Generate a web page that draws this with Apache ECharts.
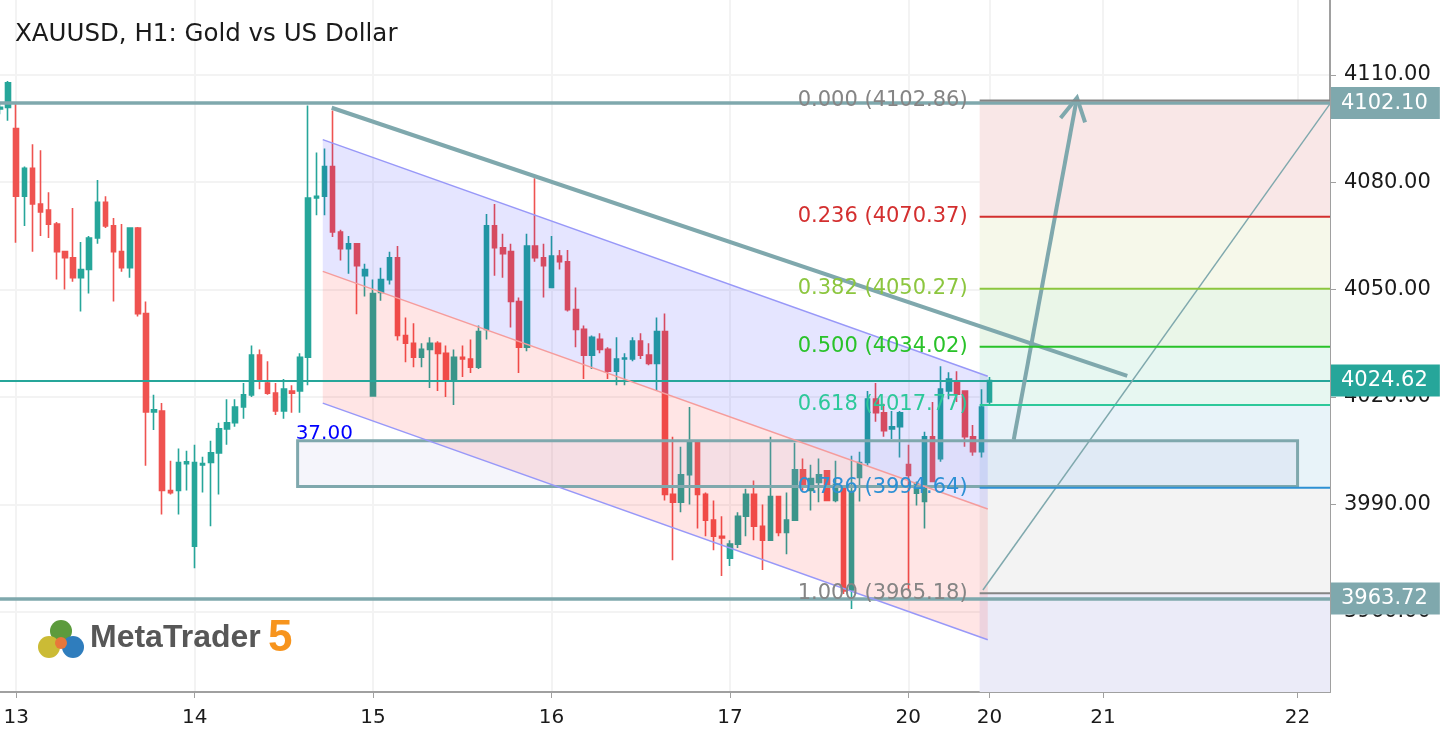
<!DOCTYPE html>
<html>
<head>
<meta charset="utf-8">
<title>XAUUSD, H1: Gold vs US Dollar</title>
<script src="https://cdn.jsdelivr.net/npm/echarts@6/dist/echarts.min.js"></script>
<style>
  html, body { margin: 0; padding: 0; background: #fff; }
  #chart { width: 1442px; height: 740px; }
</style>
</head>
<body>
<div id="chart"></div>
<script>
// day separators: bar index and label
const dayTicks = [2, 24, 46, 68, 90, 112, 122, 136, 160];
const dayNames = ['13', '14', '15', '16', '17', '20', '20', '21', '22'];
const priceTicks = [3960, 3990, 4020, 4050, 4080, 4110];

// H1 bars, one row per hour: [open, close, low, high]
const ohlc = [
  [4100.5, 4100.9, 4099.0, 4102.0], [4100.9, 4107.8, 4097.2, 4108.3],
  // 13
  [4095.0, 4076.1, 4063.1, 4101.9], [4076.1, 4083.9, 4067.8, 4084.4], [4083.9, 4073.9, 4060.6, 4090.6],
  [4073.9, 4071.7, 4065.0, 4088.9], [4072.2, 4068.3, 4064.4, 4077.2], [4068.3, 4060.6, 4052.8, 4068.9],
  [4060.6, 4058.9, 4050.0, 4060.6], [4058.9, 4053.3, 4052.2, 4072.8], [4053.3, 4055.6, 4043.9, 4063.3],
  [4055.6, 4064.4, 4048.9, 4065.0], [4064.4, 4074.4, 4062.8, 4080.6], [4074.4, 4067.8, 4067.2, 4076.1],
  [4067.8, 4060.6, 4046.7, 4070.0], [4060.6, 4056.1, 4055.0, 4068.3], [4056.1, 4067.2, 4053.3, 4067.2],
  [4067.2, 4043.3, 4042.5, 4067.5], [4043.3, 4015.8, 4000.8, 4046.7], [4015.8, 4016.4, 4010.8, 4020.6],
  [4016.1, 3993.9, 3987.2, 4018.3], [3993.9, 3993.3, 3992.8, 4002.2], [3993.9, 4001.7, 3987.2, 4005.6],
  [4001.4, 4001.9, 3993.9, 4005.0],
  // 14
  [3978.3, 4001.7, 3972.2, 4006.7], [4001.0, 4001.4, 3993.3, 4003.3], [4001.7, 4004.4, 3983.9, 4007.8],
  [4004.4, 4011.1, 3992.8, 4012.8], [4011.1, 4012.8, 4006.7, 4019.4], [4012.8, 4017.2, 4011.7, 4019.4],
  [4017.2, 4020.6, 4013.9, 4023.9], [4020.6, 4031.7, 4020.0, 4034.4], [4031.7, 4025.0, 4022.2, 4033.3],
  [4023.9, 4021.1, 4020.6, 4030.0], [4021.1, 4016.1, 4015.0, 4023.9], [4016.1, 4022.2, 4013.9, 4025.0],
  [4021.7, 4021.1, 4015.6, 4023.3], [4021.7, 4031.1, 4015.6, 4032.2], [4031.1, 4075.6, 4023.3, 4101.4],
  [4075.6, 4076.1, 4070.8, 4088.3], [4076.1, 4084.4, 4070.8, 4089.4], [4084.4, 4066.1, 4064.7, 4100.0],
  [4066.1, 4061.4, 4058.1, 4066.7], [4061.4, 4062.8, 4054.4, 4065.0], [4062.8, 4056.7, 4043.1, 4062.8],
  [4053.9, 4055.6, 4048.1, 4057.2],
  // 15
  [4020.3, 4048.9, 4020.3, 4052.8], [4049.2, 4052.8, 4046.9, 4056.1], [4052.8, 4058.9, 4051.4, 4060.6],
  [4058.9, 4037.2, 4035.8, 4062.2], [4037.2, 4035.0, 4029.7, 4042.2], [4035.0, 4031.1, 4028.3, 4040.6],
  [4031.1, 4033.3, 4028.3, 4035.0], [4033.3, 4035.0, 4022.5, 4036.7], [4035.0, 4032.2, 4021.7, 4035.6],
  [4032.2, 4025.0, 4020.0, 4034.4], [4025.0, 4031.1, 4017.8, 4033.3], [4031.1, 4030.6, 4025.6, 4034.4],
  [4030.6, 4028.3, 4026.7, 4036.1], [4028.3, 4038.3, 4027.8, 4040.0], [4038.9, 4067.8, 4036.1, 4071.1],
  [4067.8, 4061.7, 4053.9, 4073.9], [4061.7, 4060.0, 4053.3, 4065.6], [4060.6, 4046.7, 4039.4, 4062.8],
  [4046.7, 4033.9, 4026.7, 4047.8], [4033.9, 4062.2, 4032.8, 4065.6], [4062.2, 4058.9, 4057.8, 4081.1],
  [4058.9, 4056.7, 4047.8, 4062.8],
  // 16
  [4050.6, 4059.4, 4050.6, 4065.0], [4059.4, 4057.8, 4055.6, 4061.1], [4057.8, 4044.4, 4043.9, 4061.1],
  [4044.4, 4038.9, 4033.9, 4050.6], [4038.9, 4031.7, 4025.0, 4040.0], [4031.7, 4036.7, 4027.8, 4037.2],
  [4036.1, 4033.3, 4032.2, 4037.8], [4033.3, 4027.2, 4025.0, 4033.9], [4027.2, 4030.6, 4023.3, 4036.7],
  [4030.6, 4030.9, 4023.3, 4032.2], [4030.6, 4035.6, 4030.0, 4036.7], [4035.6, 4031.7, 4030.6, 4037.8],
  [4031.7, 4029.4, 4028.9, 4035.0], [4029.4, 4038.3, 4021.7, 4042.2], [4038.3, 3992.8, 3991.1, 4043.3],
  [3992.8, 3990.6, 3974.4, 4008.9], [3990.6, 3998.3, 3987.8, 4006.1], [3998.3, 4007.2, 3990.0, 4017.2],
  [4007.2, 3992.8, 3983.3, 4007.2], [3992.8, 3985.6, 3981.1, 3993.3], [3985.6, 3981.1, 3977.2, 3991.1],
  [3981.1, 3980.6, 3970.0, 3986.7],
  // 17
  [3975.0, 3978.9, 3972.8, 3980.0], [3978.9, 3986.7, 3977.8, 3987.8], [3986.7, 3992.8, 3981.1, 3994.4],
  [3992.8, 3983.9, 3980.0, 3996.7], [3983.9, 3980.0, 3971.7, 3990.0], [3980.0, 3992.2, 3980.0, 4008.9],
  [3992.2, 3982.2, 3981.1, 3992.2], [3982.2, 3985.6, 3976.1, 3993.3], [3985.6, 3999.7, 3985.6, 4007.2],
  [3999.7, 3995.6, 3993.9, 4002.8], [3993.9, 3997.2, 3988.3, 4001.1], [3996.1, 3998.3, 3990.6, 4002.8],
  [3999.4, 3991.1, 3991.1, 3999.4], [3991.1, 3995.6, 3990.6, 4002.2], [3994.4, 3965.8, 3965.0, 3994.4],
  [3966.1, 3993.6, 3960.8, 4003.6], [3997.5, 4001.7, 3990.8, 4004.7], [4001.7, 4019.4, 4000.8, 4021.7],
  [4019.4, 4015.6, 4013.1, 4023.9], [4015.6, 4010.6, 4008.9, 4018.1], [4011.1, 4011.7, 4008.3, 4016.1],
  [4011.7, 4015.6, 4003.1, 4016.1],
  // 20
  [4001.1, 3998.1, 3965.8, 4006.7], [3993.1, 3995.8, 3989.7, 3996.4], [3990.8, 4008.9, 3983.3, 4010.3],
  [4008.9, 3996.4, 3996.4, 4018.6], [4002.8, 4022.2, 4001.9, 4028.6], [4021.7, 4025.0, 4019.4, 4026.9],
  [4024.4, 4020.8, 4018.6, 4027.2], [4021.7, 4008.9, 4006.1, 4021.7], [4008.9, 4004.7, 4003.6, 4012.2],
  [4004.7, 4017.2, 4003.1, 4022.2], [4018.6, 4024.62, 4017.5, 4025.6]
];

const lastPrice = 4024.62;
const levelPrices = [4102.10, 3963.72];

// Fibonacci retracement
const fibRatios = [0, 0.236, 0.382, 0.5, 0.618, 0.786, 1];
const fibPrices = [4102.86, 4070.37, 4050.27, 4034.02, 4017.77, 3994.64, 3965.18];
const fibSpan = [120.8, 164];

// regression channel: bar index at both ends and prices of its three lines
const channelX = [39.8, 121.8];
const channelUpper = [4091.9, 4025.8];
const channelMid = [4055.1, 3988.7];
const channelLower = [4018.3, 3952.2];

// other drawing objects, anchor points as [bar index], [price]
const trendX = [40.9, 139.0];
const trendY = [4100.8, 4025.9];
const arrowX = [125.0, 132.8];
const arrowY = [4008.1, 4103.6];
const fibBaseX = [121.2, 164];
const fibBaseY = [3966.1, 4101.9];
const boxX = [36.7, 160.0];
const boxY = [4007.8, 3995.0];
const boxText = '37.00';

const yMin = 3937.6;
const yMax = 4130.9;

const FONT = 'DejaVu Sans';
const GREY_LINE = '#7fa8ad';

const fibColors = ['#858585', '#d32f2f', '#8cc63f', '#29c229', '#2dc89a', '#2d90d4', '#858585'];
const zoneColors = ['#f9e7e7', '#f6f8ea', '#eaf6e8', '#e7f7f1', '#e8f3f9', '#f3f3f3', '#ebebf8'];

const fibZones = fibPrices.map((p, i) => [fibSpan[0], fibSpan[1], p, i < fibPrices.length - 1 ? fibPrices[i + 1] : yMin]);
const fibRows = fibPrices.map((p, i) => [fibSpan[0], fibSpan[1], fibRatios[i], p]);

const bandRows = [
  [channelX[0], channelX[1], channelUpper[0], channelUpper[1], channelMid[0], channelMid[1]],
  [channelX[0], channelX[1], channelMid[0], channelMid[1], channelLower[0], channelLower[1]]
];
const bandFills = ['rgba(0,0,255,0.1)', 'rgba(255,0,0,0.1)'];

const lineRows = [
  [channelX[0], channelUpper[0], channelX[1], channelUpper[1]],
  [channelX[0], channelMid[0], channelX[1], channelMid[1]],
  [channelX[0], channelLower[0], channelX[1], channelLower[1]],
  [trendX[0], trendY[0], trendX[1], trendY[1]],
  [fibBaseX[0], fibBaseY[0], fibBaseX[1], fibBaseY[1]],
  [arrowX[0], arrowY[0], arrowX[1], arrowY[1]]
];
const lineStyles = [
  { stroke: '#9898f8', lineWidth: 1.5 },
  { stroke: '#f59c9c', lineWidth: 1.5 },
  { stroke: '#9898f8', lineWidth: 1.5 },
  { stroke: GREY_LINE, lineWidth: 4 },
  { stroke: GREY_LINE, lineWidth: 1.5 },
  { stroke: GREY_LINE, lineWidth: 4, arrow: true }
];

const chart = echarts.init(document.getElementById('chart'));

function renderZone(params, api) {
  const a = api.coord([api.value(0), api.value(2)]);
  const b = api.coord([api.value(1), api.value(3)]);
  return {
    type: 'rect',
    shape: { x: a[0], y: a[1], width: b[0] - a[0], height: b[1] - a[1] },
    style: { fill: zoneColors[params.dataIndex] }
  };
}

function renderBand(params, api) {
  const x1 = api.value(0), x2 = api.value(1);
  const pts = [
    api.coord([x1, api.value(2)]), api.coord([x2, api.value(3)]),
    api.coord([x2, api.value(5)]), api.coord([x1, api.value(4)])
  ];
  return { type: 'polygon', shape: { points: pts }, style: { fill: bandFills[params.dataIndex] } };
}

function renderLine(params, api) {
  const a = api.coord([api.value(0), api.value(1)]);
  const b = api.coord([api.value(2), api.value(3)]);
  const s = lineStyles[params.dataIndex];
  const children = [{
    type: 'line',
    shape: { x1: a[0], y1: a[1], x2: b[0], y2: b[1] },
    style: { stroke: s.stroke, lineWidth: s.lineWidth }
  }];
  if (s.arrow) {
    // open arrow head at the far end
    const ang = Math.atan2(b[1] - a[1], b[0] - a[0]);
    const len = 26, spread = 0.5;
    children.push({
      type: 'polyline',
      shape: {
        points: [
          [b[0] - len * Math.cos(ang - spread), b[1] - len * Math.sin(ang - spread)],
          [b[0], b[1]],
          [b[0] - len * Math.cos(ang + spread), b[1] - len * Math.sin(ang + spread)]
        ]
      },
      style: { stroke: s.stroke, lineWidth: s.lineWidth, fill: null }
    });
  }
  return { type: 'group', children: children };
}

function renderBox(params, api) {
  const a = api.coord([boxX[0], boxY[0]]);
  const b = api.coord([boxX[1], boxY[1]]);
  return {
    type: 'group',
    children: [
      {
        type: 'rect',
        shape: { x: a[0], y: a[1], width: b[0] - a[0], height: b[1] - a[1] },
        style: { fill: 'rgba(170,170,220,0.12)', stroke: GREY_LINE, lineWidth: 3 }
      },
      {
        type: 'text',
        x: a[0] - 2, y: a[1] + 3,
        style: { text: boxText, fill: '#0000ff', font: '20px "' + FONT + '"', align: 'left', verticalAlign: 'bottom' }
      }
    ]
  };
}

function renderFib(params, api) {
  const a = api.coord([api.value(0), api.value(3)]);
  const b = api.coord([api.value(1), api.value(3)]);
  const col = fibColors[params.dataIndex];
  const txt = api.value(2).toFixed(3) + ' (' + api.value(3).toFixed(2) + ')';
  return {
    type: 'group',
    children: [
      { type: 'line', shape: { x1: a[0], y1: a[1], x2: b[0], y2: b[1] }, style: { stroke: col, lineWidth: 2 } },
      {
        type: 'text', x: a[0] - 12, y: a[1],
        style: { text: txt, fill: col, font: '21px "' + FONT + '"', align: 'right', verticalAlign: 'middle' }
      }
    ]
  };
}

function levelLine(value, color, width) {
  return {
    yAxis: value,
    lineStyle: { color: color, width: width, type: 'solid' },
    label: {
      show: true, position: 'end', distance: 1,
      formatter: (p) => Number(p.value).toFixed(2),
      backgroundColor: color, color: '#ffffff',
      fontFamily: FONT, fontSize: 21, padding: [6, 12, 5, 10]
    }
  };
}

const option = {
  animation: false,
  backgroundColor: '#ffffff',
  textStyle: { fontFamily: FONT },
  grid: { left: 0, right: 112, top: 0, bottom: 48 },
  xAxis: {
    type: 'value', min: 0, max: 164,
    axisLine: { show: true, onZero: false, lineStyle: { color: '#a0a0a0', width: 2 } },
    axisTick: { show: true, customValues: dayTicks, length: 6, lineStyle: { color: '#a0a0a0' } },
    axisLabel: {
      customValues: dayTicks,
      formatter: (v) => dayNames[dayTicks.indexOf(Math.round(v))] || '',
      color: '#1a1a1a', fontSize: 20, margin: 16
    },
    splitLine: { show: true, lineStyle: { color: '#f3f3f3', width: 2 } }
  },
  yAxis: {
    type: 'value', position: 'right', min: yMin, max: yMax,
    axisLine: { show: true, onZero: false, lineStyle: { color: '#a0a0a0', width: 2 } },
    axisTick: { show: true, customValues: priceTicks, length: 6, lineStyle: { color: '#a0a0a0' } },
    axisLabel: {
      customValues: priceTicks,
      formatter: (v) => v.toFixed(2),
      color: '#1a1a1a', fontSize: 21, margin: 14
    },
    splitLine: { show: true, lineStyle: { color: '#f3f3f3', width: 2 } }
  },
  series: [
    {
      type: 'custom', name: 'fibZones', z: 1, clip: true,
      renderItem: renderZone, data: fibZones, silent: true
    },
    {
      type: 'candlestick', name: 'XAUUSD', z: 2,
      data: ohlc.map((r, i) => [i, r[0], r[1], r[2], r[3]]),
      barWidth: 5,
      itemStyle: {
        color: '#26a69a', color0: '#ef5350',
        borderColor: '#26a69a', borderColor0: '#ef5350', borderWidth: 1.6
      },
      markLine: {
        symbol: 'none', silent: true, z: 5,
        data: [
          levelLine(levelPrices[0], GREY_LINE, 3.5),
          levelLine(levelPrices[1], GREY_LINE, 3.5),
          levelLine(lastPrice, '#26a69a', 2)
        ]
      }
    },
    {
      type: 'custom', name: 'channelFill', z: 3, clip: true,
      renderItem: renderBand, data: bandRows, silent: true
    },
    {
      type: 'custom', name: 'box', z: 4, clip: true,
      renderItem: renderBox, data: [[boxX[0], boxY[0]]], silent: true
    },
    {
      type: 'custom', name: 'lines', z: 6, clip: true,
      renderItem: renderLine, data: lineRows, silent: true
    },
    {
      type: 'custom', name: 'fib', z: 7,
      renderItem: renderFib, data: fibRows, silent: true
    }
  ],
  graphic: [
    {
      type: 'text', left: 15, top: 22, z: 20,
      style: { text: 'XAUUSD, H1: Gold vs US Dollar', fill: '#1a1a1a', font: '24.5px "' + FONT + '"' }
    },
    {
      type: 'group', left: 38, top: 620, z: 20,
      children: [
        { type: 'circle', shape: { cx: 24, cy: 12, r: 11 }, style: { fill: '#5c9b3c' } },
        { type: 'circle', shape: { cx: 12, cy: 28, r: 11 }, style: { fill: '#cbbb35' } },
        { type: 'circle', shape: { cx: 36, cy: 28, r: 11 }, style: { fill: '#2f7dbd' } },
        { type: 'circle', shape: { cx: 24, cy: 24, r: 6 }, style: { fill: '#e8773a' } }
      ]
    },
    {
      type: 'text', left: 90, top: 622, z: 20,
      style: { text: 'MetaTrader', fill: '#575757', font: 'bold 32px "Liberation Sans"' }
    },
    {
      type: 'text', left: 268, top: 617, z: 20,
      style: { text: '5', fill: '#f7941d', font: 'bold 44px "Liberation Sans"' }
    }
  ]
};

chart.setOption(option);
window.addEventListener('resize', chart.resize);
</script>
</body>
</html>
